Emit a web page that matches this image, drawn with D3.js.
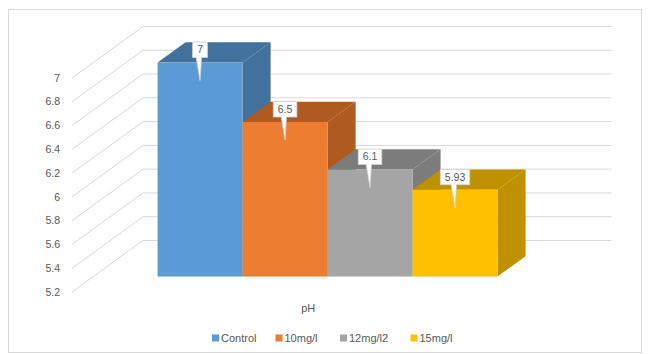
<!DOCTYPE html>
<html>
<head>
<meta charset="utf-8">
<script src="https://cdn.jsdelivr.net/npm/d3@7"></script>
<style>
  body { margin: 0; background: #fff; }
  text { font-family: "Liberation Sans", "DejaVu Sans", sans-serif; fill: #595959; }
</style>
</head>
<body>
<script>
// chart data
var categories = ["pH"];
var seriesNames = ["Control", "10mg/l", "12mg/l2", "15mg/l"];
var seriesValues = [7, 6.5, 6.1, 5.93];
var valueLabels = ["7", "6.5", "6.1", "5.93"];
var yTickLabels = ["5.2", "5.4", "5.6", "5.8", "6", "6.2", "6.4", "6.6", "6.8", "7"];

var frontColors = ["#5b9bd5", "#ed7d31", "#a5a5a5", "#ffc000"];
var darkColors = ["#41719c", "#ae5a21", "#7c7c7c", "#bf9000"];

function main() {
    var width = 650, height = 354;

    // oblique projection: depth 0 (front) .. 1 (back wall)
    var depthX = 71, depthY = 51.5;
    var barZ0 = 0.30, barZ1 = 0.695;
    function px(x, z) { return x + z * depthX; }
    function py(y, z) { return y - z * depthY; }

    var yScale = d3.scaleLinear().domain([5.2, 7]).range([292, 78]);
    var xScale = d3.scaleBand().domain(categories).range([72, 540.5])
        .paddingInner(0).paddingOuter(0.189);
    var xSub = d3.scaleBand().domain(seriesNames).range([0, xScale.bandwidth()]);

    var svg = d3.select("body").append("svg")
        .attr("width", width)
        .attr("height", height);

    // chart border
    svg.append("rect")
        .attr("x", 8.5).attr("y", 9.5)
        .attr("width", 633).attr("height", 343)
        .attr("fill", "none").attr("stroke", "#d9d9d9");

    // gridlines: floor diagonal + back wall
    var grid = svg.append("g").attr("stroke", "#d9d9d9").attr("fill", "none");
    var x0 = xScale.range()[0], x1 = xScale.range()[1];
    yTickLabels.forEach(function(t) {
        var v = +t, y = yScale(v);
        grid.append("path")
            .attr("d", "M" + x0 + "," + y + "L" + px(x0, 1) + "," + py(y, 1) +
                       "L" + px(x1, 1) + "," + py(y, 1));
    });

    // y axis labels
    svg.append("g").selectAll("text")
        .data(yTickLabels).enter().append("text")
        .attr("x", 60)
        .attr("y", function(d) { return yScale(+d); })
        .attr("dy", "0.35em")
        .attr("text-anchor", "end")
        .attr("font-size", 10.5)
        .text(function(d) { return d; });

    // 3D bars
    var base = yScale.domain()[0];
    var bars = svg.append("g");
    seriesNames.forEach(function(name, i) {
        var xl = xScale(categories[0]) + xSub(name);
        var xr = xl + xSub.bandwidth();
        var yt = yScale(seriesValues[i]), yb = yScale(base);
        var g = bars.append("g");
        // right side
        g.append("path").attr("fill", darkColors[i])
            .attr("d", "M" + px(xr, barZ0) + "," + py(yt, barZ0) +
                       "L" + px(xr, barZ1) + "," + py(yt, barZ1) +
                       "L" + px(xr, barZ1) + "," + py(yb, barZ1) +
                       "L" + px(xr, barZ0) + "," + py(yb, barZ0) + "Z");
        // top
        g.append("path").attr("fill", darkColors[i])
            .attr("d", "M" + px(xl, barZ0) + "," + py(yt, barZ0) +
                       "L" + px(xl, barZ1) + "," + py(yt, barZ1) +
                       "L" + px(xr, barZ1) + "," + py(yt, barZ1) +
                       "L" + px(xr, barZ0) + "," + py(yt, barZ0) + "Z");
        // front
        g.append("rect").attr("fill", frontColors[i])
            .attr("x", px(xl, barZ0)).attr("y", py(yt, barZ0))
            .attr("width", xr - xl).attr("height", yb - yt);
    });

    // callout data labels
    var labels = svg.append("g");
    seriesNames.forEach(function(name, i) {
        var cx = px(xScale(categories[0]) + xSub(name) + xSub.bandwidth() / 2, barZ0);
        var top = py(yScale(seriesValues[i]), barZ0);
        var bb = top - 5, bh = 15.5;
        var tip = top + 18;
        var g = labels.append("g");
        var rect = g.append("rect");
        var wedge = g.append("path");
        var txt = g.append("text")
            .attr("x", cx).attr("y", bb - bh / 2).attr("dy", "0.35em")
            .attr("text-anchor", "middle").attr("font-size", 10.5)
            .text(valueLabels[i]);
        var w = txt.node().getComputedTextLength() + 9;
        rect.attr("x", cx - w / 2).attr("y", bb - bh)
            .attr("width", w).attr("height", bh)
            .attr("fill", "#fff").attr("stroke", "#d0d0d0").attr("stroke-width", 0.8);
        wedge.attr("d", "M" + (cx - 4) + "," + (bb - 0.5) + "L" + cx + "," + tip +
                        "L" + (cx + 1.5) + "," + (bb - 0.5) + "Z")
            .attr("fill", "#fff").attr("stroke", "#d0d0d0").attr("stroke-width", 0.8);
        // cover the wedge's top stroke so it joins the box
        g.append("rect").attr("x", cx - 3.6).attr("y", bb - 1.5)
            .attr("width", 4.8).attr("height", 1.6).attr("fill", "#fff");
        txt.raise();
    });

    // category label
    svg.append("text")
        .attr("x", xScale(categories[0]) + xScale.bandwidth() / 2 + 2)
        .attr("y", 312)
        .attr("text-anchor", "middle")
        .attr("font-size", 11)
        .text(categories[0]);

    // legend
    var legendX = [212, 275.5, 340, 410.5];
    var legend = svg.append("g");
    seriesNames.forEach(function(name, i) {
        legend.append("rect")
            .attr("x", legendX[i]).attr("y", 334.5)
            .attr("width", 7).attr("height", 7)
            .attr("fill", frontColors[i]);
        legend.append("text")
            .attr("x", legendX[i] + 9).attr("y", 342)
            .attr("font-size", 11)
            .text(name);
    });
}
main();
</script>
</body>
</html>
